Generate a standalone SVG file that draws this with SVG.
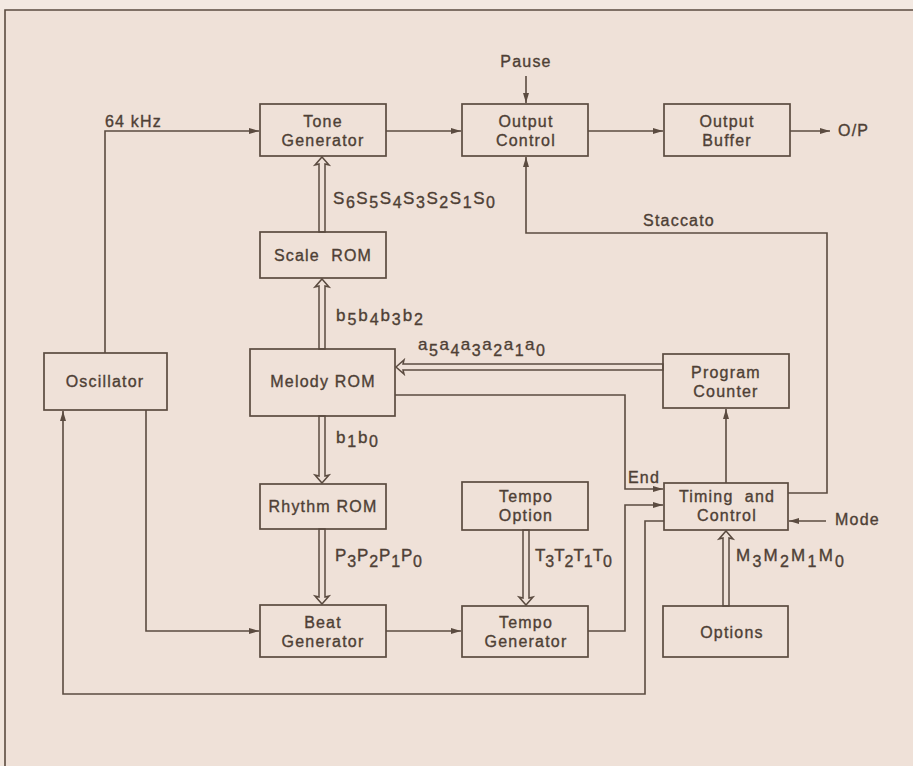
<svg xmlns="http://www.w3.org/2000/svg" width="913" height="766" viewBox="0 0 913 766">
<style>
  .box { fill: none; stroke: #5b4b40; stroke-width: 1.7; }
  .ln { fill: none; stroke: #5b4b40; stroke-width: 1.6; }
  .bus { fill: #efe1d8; stroke: #5b4b40; stroke-width: 1.5; stroke-linejoin: miter; }
  text { font-family: "Liberation Sans", Arial, sans-serif; font-size: 16px; fill: #4e3f35; stroke: #4e3f35; stroke-width: 0.35; letter-spacing: 1.2px; }
  .c { text-anchor: middle; }
  .sig { font-size: 17px; letter-spacing: 0; }
  .sub { font-size: 16px; }
</style>
<defs>
  <marker id="ah" markerUnits="userSpaceOnUse" markerWidth="12" markerHeight="8" refX="10" refY="4" orient="auto">
    <path d="M0,1 L10,4 L0,7 Z" fill="#5b4b40"/>
  </marker>
</defs>
<rect x="0" y="0" width="913" height="766" fill="#efe1d8"/>
<rect x="0" y="0" width="913" height="10" fill="#f3e9e2"/>
<rect x="0" y="10" width="5" height="756" fill="#f1e5dc"/>
<path class="ln" d="M5,766 V10 H913" stroke-width="1.3"/>

<g id="connectors">
  <path class="ln" d="M105,353 V131 H259" marker-end="url(#ah)"/>
  <path class="ln" d="M386,131 H461" marker-end="url(#ah)"/>
  <path class="ln" d="M588,131 H663" marker-end="url(#ah)"/>
  <path class="ln" d="M790,131 H830" marker-end="url(#ah)"/>
  <path class="ln" d="M526,76 V103" marker-end="url(#ah)"/>
  <path class="ln" d="M788,493 H827 V233 H526 V157" marker-end="url(#ah)"/>
  <path class="ln" d="M726,483 V409" marker-end="url(#ah)"/>
  <path class="ln" d="M395,395 H625 V489 H663" marker-end="url(#ah)"/>
  <path class="ln" d="M588,631 H625 V505 H663" marker-end="url(#ah)"/>
  <path class="ln" d="M664,521 H645 V694 H63 V411" marker-end="url(#ah)"/>
  <path class="ln" d="M146,410 V631 H259" marker-end="url(#ah)"/>
  <path class="ln" d="M386,631 H461" marker-end="url(#ah)"/>
  <path class="ln" d="M826,521 H789" marker-end="url(#ah)"/>
  <path class="bus" d="M322,157 L329,165 L325,164 L325,232 L319,232 L319,164 L315,165 Z"/>
  <path class="bus" d="M322,279 L329,287 L325,286 L325,349 L319,349 L319,286 L315,287 Z"/>
  <path class="bus" d="M322,483 L329,475 L325,476 L325,416 L319,416 L319,476 L315,475 Z"/>
  <path class="bus" d="M322,604 L329,596 L325,597 L325,529 L319,529 L319,597 L315,596 Z"/>
  <path class="bus" d="M526,605 L533,597 L529,598 L529,530 L523,530 L523,598 L519,597 Z"/>
  <path class="bus" d="M726,531 L733,539 L729,538 L729,606 L723,606 L723,538 L719,539 Z"/>
  <path class="bus" d="M396,367 L404,360 L403,364 L663,364 L663,370 L403,370 L404,374 Z"/>
</g>

<g id="tone-generator">
  <rect class="box" x="260" y="104" width="126" height="52"/>
  <text class="c" x="323" y="127">Tone</text>
  <text class="c" x="323" y="146">Generator</text>
</g>
<g id="output-control">
  <rect class="box" x="462" y="104" width="126" height="52"/>
  <text class="c" x="526" y="127">Output</text>
  <text class="c" x="526" y="146">Control</text>
</g>
<g id="output-buffer">
  <rect class="box" x="664" y="104" width="126" height="52"/>
  <text class="c" x="727" y="127">Output</text>
  <text class="c" x="727" y="146">Buffer</text>
</g>
<g id="scale-rom">
  <rect class="box" x="260" y="232" width="126" height="46"/>
  <text class="c" x="323" y="261" xml:space="preserve">Scale  ROM</text>
</g>
<g id="oscillator">
  <rect class="box" x="44" y="353" width="123" height="57"/>
  <text class="c" x="105" y="387">Oscillator</text>
</g>
<g id="melody-rom">
  <rect class="box" x="250" y="349" width="145" height="67"/>
  <text class="c" x="323" y="387">Melody ROM</text>
</g>
<g id="program-counter">
  <rect class="box" x="663" y="354" width="126" height="54"/>
  <text class="c" x="726" y="378">Program</text>
  <text class="c" x="726" y="397">Counter</text>
</g>
<g id="rhythm-rom">
  <rect class="box" x="260" y="484" width="126" height="45"/>
  <text class="c" x="323" y="512">Rhythm ROM</text>
</g>
<g id="tempo-option">
  <rect class="box" x="462" y="482" width="126" height="48"/>
  <text class="c" x="526" y="502">Tempo</text>
  <text class="c" x="526" y="521">Option</text>
</g>
<g id="timing-control">
  <rect class="box" x="664" y="483" width="124" height="47"/>
  <text class="c" x="727" y="502" xml:space="preserve">Timing  and</text>
  <text class="c" x="727" y="521">Control</text>
</g>
<g id="beat-generator">
  <rect class="box" x="260" y="605" width="126" height="52"/>
  <text class="c" x="323" y="628">Beat</text>
  <text class="c" x="323" y="647">Generator</text>
</g>
<g id="tempo-generator">
  <rect class="box" x="462" y="606" width="126" height="51"/>
  <text class="c" x="526" y="628">Tempo</text>
  <text class="c" x="526" y="647">Generator</text>
</g>
<g id="options">
  <rect class="box" x="663" y="606" width="125" height="51"/>
  <text class="c" x="732" y="638">Options</text>
</g>

<g id="labels">
  <text x="105" y="127">64 kHz</text>
  <text class="c" x="526" y="67">Pause</text>
  <text x="838" y="136">O/P</text>
  <text class="c" x="679" y="226">Staccato</text>
  <text x="628" y="483">End</text>
  <text x="835" y="525">Mode</text>
  <text class="sig" x="333" y="204" textLength="162" lengthAdjust="spacing">S<tspan class="sub" dy="4">6</tspan><tspan dy="-4">S</tspan><tspan class="sub" dy="4">5</tspan><tspan dy="-4">S</tspan><tspan class="sub" dy="4">4</tspan><tspan dy="-4">S</tspan><tspan class="sub" dy="4">3</tspan><tspan dy="-4">S</tspan><tspan class="sub" dy="4">2</tspan><tspan dy="-4">S</tspan><tspan class="sub" dy="4">1</tspan><tspan dy="-4">S</tspan><tspan class="sub" dy="4">0</tspan></text>
  <text class="sig" x="336" y="321" textLength="87" lengthAdjust="spacing">b<tspan class="sub" dy="4">5</tspan><tspan dy="-4">b</tspan><tspan class="sub" dy="4">4</tspan><tspan dy="-4">b</tspan><tspan class="sub" dy="4">3</tspan><tspan dy="-4">b</tspan><tspan class="sub" dy="4">2</tspan></text>
  <text class="sig" x="336" y="443" textLength="42" lengthAdjust="spacing">b<tspan class="sub" dy="4">1</tspan><tspan dy="-4">b</tspan><tspan class="sub" dy="4">0</tspan></text>
  <text class="sig" x="418" y="350" textLength="127" lengthAdjust="spacing">a<tspan class="sub" dy="6">5</tspan><tspan dy="-6">a</tspan><tspan class="sub" dy="6">4</tspan><tspan dy="-6">a</tspan><tspan class="sub" dy="6">3</tspan><tspan dy="-6">a</tspan><tspan class="sub" dy="6">2</tspan><tspan dy="-6">a</tspan><tspan class="sub" dy="6">1</tspan><tspan dy="-6">a</tspan><tspan class="sub" dy="6">0</tspan></text>
  <text class="sig" x="335" y="561" textLength="87" lengthAdjust="spacing">P<tspan class="sub" dy="6">3</tspan><tspan dy="-6">P</tspan><tspan class="sub" dy="6">2</tspan><tspan dy="-6">P</tspan><tspan class="sub" dy="6">1</tspan><tspan dy="-6">P</tspan><tspan class="sub" dy="6">0</tspan></text>
  <text class="sig" x="535" y="561" textLength="77" lengthAdjust="spacing">T<tspan class="sub" dy="6">3</tspan><tspan dy="-6">T</tspan><tspan class="sub" dy="6">2</tspan><tspan dy="-6">T</tspan><tspan class="sub" dy="6">1</tspan><tspan dy="-6">T</tspan><tspan class="sub" dy="6">0</tspan></text>
  <text class="sig" x="736" y="561" textLength="108" lengthAdjust="spacing">M<tspan class="sub" dy="6">3</tspan><tspan dy="-6">M</tspan><tspan class="sub" dy="6">2</tspan><tspan dy="-6">M</tspan><tspan class="sub" dy="6">1</tspan><tspan dy="-6">M</tspan><tspan class="sub" dy="6">0</tspan></text>
</g>
</svg>
